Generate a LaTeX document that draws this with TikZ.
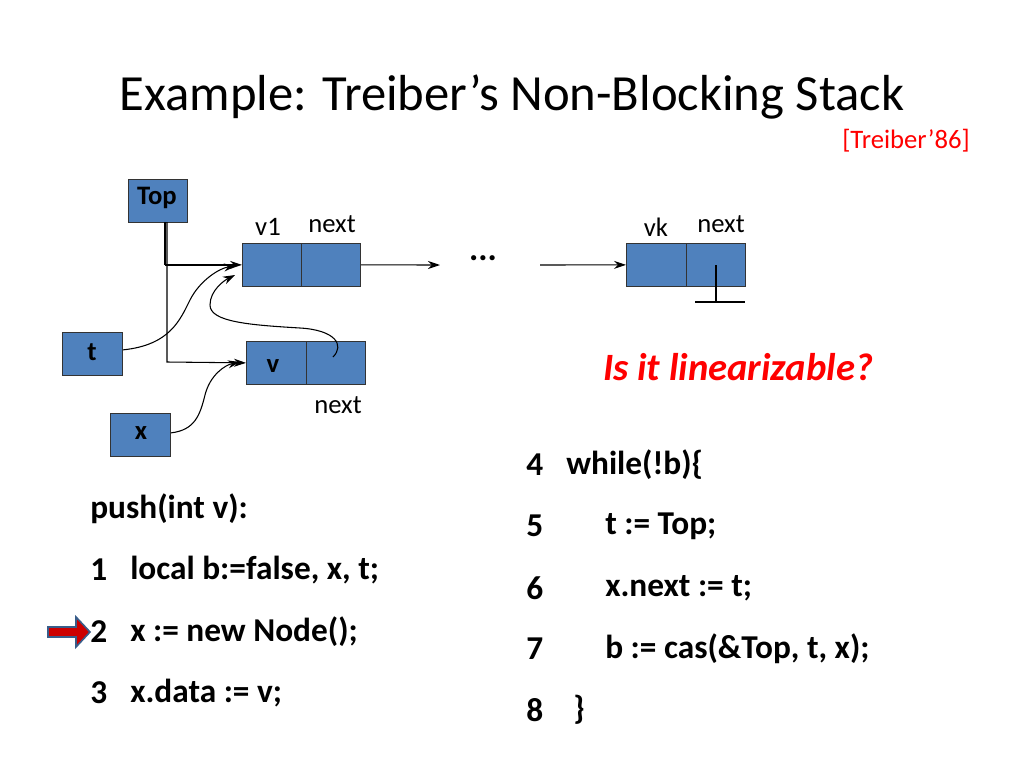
\documentclass[tikz,border=0pt]{standalone}
\usepackage{fontspec}
\setmainfont{Carlito}
\usetikzlibrary{arrows.meta}
\definecolor{boxblue}{RGB}{79,129,189}
\definecolor{boxedge}{RGB}{56,93,138}
\begin{document}
\begin{tikzpicture}[x=0.75pt,y=-0.75pt,
  cell/.style={draw=black!80,fill=boxblue,line width=0.8pt,minimum height=32pt,inner sep=0pt,anchor=north west},
  lbl/.style={font=\fontsize{20}{20}\selectfont,inner sep=0pt},
  blbl/.style={font=\bfseries\fontsize{20}{20}\selectfont,inner sep=0pt},
  code/.style={font=\bfseries\fontsize{25}{25}\selectfont,anchor=west,inner sep=0pt},
  arr/.style={-{Stealth[length=9pt,width=6pt]},line width=0.8pt}]
\useasboundingbox (0,0) rectangle (1024,768);
\node[font=\fontsize{38}{38}\selectfont] (title) at (512,97) {Example: Treiber’s Non-Blocking Stack};
\node[font=\fontsize{20}{20}\selectfont,text=red,anchor=east,inner sep=0pt] (ref) at (970,141) {[Treiber’86]};
% boxes
\node[cell,minimum width=44pt,minimum height=32pt] (top) at (128,179) {};
\node[blbl] at (157,198) {Top};
\node[cell,minimum width=44.25pt] (v1a) at (242,243) {};
\node[cell,minimum width=44.25pt] (v1b) at (301,243) {};
\node[cell,minimum width=45pt] (vka) at (626,243) {};
\node[cell,minimum width=44.25pt] (vkb) at (686,243) {};
\node[cell,minimum width=45pt] (va) at (246,341) {};
\node[cell,minimum width=44.25pt] (vb) at (306,341) {};
\node[blbl] at (273,366) {v};
\node[cell,minimum width=45pt] (t) at (62,332) {};
\node[blbl] at (92,352) {t};
\node[cell,minimum width=45pt] (x) at (110,413) {};
\node[blbl] at (141,433) {x};
% labels
\node[lbl] at (268,227) {v1};
\node[lbl] at (332,224) {next};
\node[lbl] at (656,227) {vk};
\node[lbl] at (721,224) {next};
\node[lbl] at (338,405) {next};
\node[font=\bfseries\fontsize{26}{26}\selectfont,inner sep=0pt] (dots) at (483,258) {...};
% connectors
\draw[line width=2pt] (165,222) -- (165,265);
\draw[arr,line width=1.3pt] (165,265) -- (v1a.west);
\draw[arr] (167,222) -- (167,362) -- (va.west);
\draw[arr] (v1b.east) -- (440,265);
\draw[arr] (540,265) -- (vka.west);
\draw[line width=0.8pt] (716,265) -- (716,302);
\draw[line width=0.8pt] (695,302) -- (745,302);
\draw[arr] (t.east) ++(0,-4) .. controls (170,345) and (180,320) .. (190,300) .. controls (200,280) and (220,268) .. (236,266);
\draw[arr] (x.east) ++(0,-2) .. controls (195,430) and (200,415) .. (205,395) .. controls (210,375) and (225,365) .. (240,362);
\draw[arr] (333,357) .. controls (345,345) and (335,330) .. (300,328) .. controls (250,325) and (210,322) .. (210,305) .. controls (210,290) and (225,280) .. (235,275);
% question
\node[font=\bfseries\itshape\fontsize{29}{29}\selectfont,text=red,inner sep=0pt] (q) at (738,367) {Is it linearizable?};
% code left
\node[code] (p0) at (90,509) {push(int v):};
\node[code] (p1) at (90,570) {1};
\node[code] at (130,570) {local b:=false, x, t;};
\node[code] (p2) at (90,632) {2};
\node[code] at (130,632) {x := new Node();};
\node[code] (p3) at (90,693) {3};
\node[code] at (130,693) {x.data := v;};
% code right
\node[code] (r4) at (526,465) {4};
\node[code] at (566,465) {while(!b)\{};
\node[code] (r5) at (526,526) {5};
\node[code] at (605,526) {t := Top;};
\node[code] (r6) at (526,588) {6};
\node[code] at (605,588) {x.next := t;};
\node[code] (r7) at (526,649) {7};
\node[code] at (605,649) {b := cas(\&Top, t, x);};
\node[code] (r8) at (526,710) {8};
\node[code] at (573,710) {\}};
% pointer arrow
\draw[fill=red!80!black,draw=boxedge,line width=1.2pt,line join=miter]
  (48,627) -- (76,627) -- (76,617) -- (90,632) -- (76,647) -- (76,637) -- (48,637) -- cycle;
\end{tikzpicture}
\end{document}
